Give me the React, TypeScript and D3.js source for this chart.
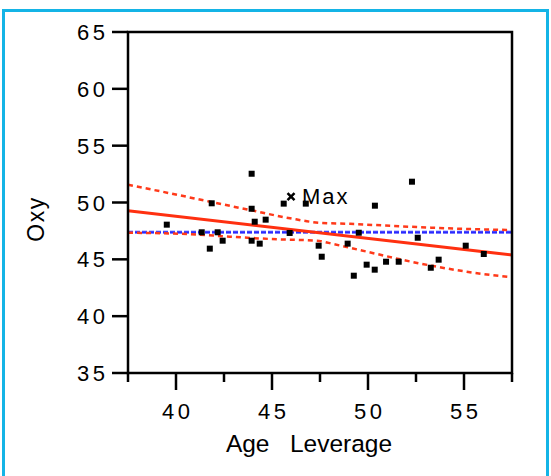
import React, { useEffect, useRef } from 'react';
import * as d3 from 'd3';

// points: [age leverage, oxy]
const points: [number, number][] = [
  [39.52, 48.05], [41.34, 47.38], [41.76, 45.94], [41.86, 49.93], [42.17, 47.38],
  [42.43, 46.64], [43.94, 52.53], [43.94, 49.45], [43.94, 46.64], [44.1, 48.31],
  [44.36, 46.38], [44.67, 48.49], [45.61, 49.9], [45.92, 47.32], [46.76, 49.9],
  [47.43, 46.2], [47.59, 45.23], [48.94, 46.38], [49.26, 43.56], [49.52, 47.34],
  [49.93, 44.53], [50.35, 44.09], [50.36, 49.72], [50.94, 44.79], [51.6, 44.79],
  [52.29, 51.83], [52.59, 46.9], [53.27, 44.26], [53.68, 44.97], [55.09, 46.2],
  [56.03, 45.47],
];
const maxPoint: [number, number] = [45.99, 50.51];
const maxLabel = 'Max';

const fitLine: [number, number][] = [[37.5, 49.28], [57.5, 45.38]];
const meanLine: [number, number][] = [[37.5, 47.38], [57.5, 47.38]];
const upperBand: [number, number][] = [
  [37.5, 51.56], [39.69, 50.81], [41.77, 50.07], [43.85, 49.34], [45.94, 48.61],
  [47.45, 48.22], [49.06, 48.12], [52.54, 47.84], [55.14, 47.67], [57.5, 47.58],
];
const lowerBand: [number, number][] = [
  [37.5, 47.34], [40.56, 47.23], [42.81, 46.99], [44.9, 46.79], [47.46, 46.61],
  [48.18, 46.35], [49.93, 45.68], [51.67, 45.0], [53.4, 44.41], [55.14, 43.91],
  [57.5, 43.42],
];

const yTicks = [35, 40, 45, 50, 55, 60, 65];
const xMajorTicks = [40, 45, 50, 55];
const xMinorTicks = [37.5, 42.5, 47.5, 52.5, 57.5];
const xTitle = 'Age\u00a0\u00a0\u00a0Leverage';
const yTitle = 'Oxy';

const W = 551;
const H = 476;
const FONT = '"Liberation Sans", Arial, Helvetica, sans-serif';

const App = () => {
  const svgRef = useRef<SVGSVGElement>(null);

  useEffect(() => {
    const svg = d3.select(svgRef.current);
    svg.selectAll('*').remove();

    const left = 128, right = 512, top = 32, bottom = 373;
    const x = d3.scaleLinear().domain([37.5, 57.5]).range([left, right]);
    const y = d3.scaleLinear().domain([35, 65]).range([bottom, top]);

    svg.append('rect').attr('width', W).attr('height', H).attr('fill', '#fff');

    // cyan outer frame
    svg.append('rect')
      .attr('x', 3.5).attr('y', 10.5)
      .attr('width', 544).attr('height', 480)
      .attr('fill', 'none')
      .attr('stroke', '#14b4e6')
      .attr('stroke-width', 3);

    const line = d3.line<[number, number]>().x(d => x(d[0])).y(d => y(d[1]));
    const curve = d3.line<[number, number]>()
      .x(d => x(d[0])).y(d => y(d[1]))
      .curve(d3.curveMonotoneX);

    const plot = svg.append('g');

    // mean line (blue dashed with soft halo)
    plot.append('path')
      .attr('d', line(meanLine))
      .attr('fill', 'none')
      .attr('stroke', '#9a9aff')
      .attr('stroke-width', 3.5)
      .attr('stroke-dasharray', '5 2');
    plot.append('path')
      .attr('d', line(meanLine))
      .attr('fill', 'none')
      .attr('stroke', '#2a2aff')
      .attr('stroke-width', 2)
      .attr('stroke-dasharray', '5 2');

    // confidence curves
    [upperBand, lowerBand].forEach(band => {
      plot.append('path')
        .attr('d', curve(band))
        .attr('fill', 'none')
        .attr('stroke', '#ff3a1a')
        .attr('stroke-width', 2.5)
        .attr('stroke-dasharray', '5 4');
    });

    // fitted line
    plot.append('path')
      .attr('d', line(fitLine))
      .attr('fill', 'none')
      .attr('stroke', '#ff3010')
      .attr('stroke-width', 3);

    // points
    plot.selectAll('.pt')
      .data(points)
      .enter().append('rect')
      .attr('class', 'pt')
      .attr('x', d => x(d[0]) - 3)
      .attr('y', d => y(d[1]) - 3)
      .attr('width', 6)
      .attr('height', 6)
      .attr('fill', '#000');

    const mx = x(maxPoint[0]), my = y(maxPoint[1]);
    plot.append('path')
      .attr('d', `M${mx - 3.5},${my - 3.5}L${mx + 3.5},${my + 3.5}M${mx - 3.5},${my + 3.5}L${mx + 3.5},${my - 3.5}`)
      .attr('stroke', '#000')
      .attr('stroke-width', 2.5);
    plot.append('text')
      .attr('x', mx + 11)
      .attr('y', my + 7.5)
      .attr('font-family', FONT)
      .attr('font-size', 22)
      .attr('letter-spacing', 2)
      .attr('fill', '#000')
      .text(maxLabel);

    // frame + axes
    const axes = svg.append('g').attr('stroke', '#000').attr('stroke-width', 2.5);
    axes.append('rect')
      .attr('x', left).attr('y', top)
      .attr('width', right - left).attr('height', bottom - top)
      .attr('fill', 'none');

    yTicks.forEach(t => {
      axes.append('line')
        .attr('x1', left - 16).attr('x2', left)
        .attr('y1', y(t)).attr('y2', y(t));
    });
    xMajorTicks.forEach(t => {
      axes.append('line')
        .attr('x1', x(t)).attr('x2', x(t))
        .attr('y1', bottom).attr('y2', bottom + 17);
    });
    xMinorTicks.forEach(t => {
      axes.append('line')
        .attr('x1', x(t)).attr('x2', x(t))
        .attr('y1', bottom).attr('y2', bottom + 9);
    });

    const labels = svg.append('g')
      .attr('font-family', FONT)
      .attr('font-size', 22)
      .attr('letter-spacing', 3.5)
      .attr('fill', '#000');

    yTicks.forEach(t => {
      labels.append('text')
        .attr('x', 108.5)
        .attr('y', y(t) + 8)
        .attr('text-anchor', 'end')
        .text(t);
    });
    xMajorTicks.forEach(t => {
      labels.append('text')
        .attr('x', x(t) + 1.75)
        .attr('y', 419)
        .attr('text-anchor', 'middle')
        .text(t);
    });

    svg.append('text')
      .attr('x', 309)
      .attr('y', 452)
      .attr('text-anchor', 'middle')
      .attr('font-family', FONT)
      .attr('font-size', 24.5)
      .attr('fill', '#000')
      .text(xTitle);

    svg.append('text')
      .attr('transform', `translate(44,${219}) rotate(-90)`)
      .attr('text-anchor', 'middle')
      .attr('font-family', FONT)
      .attr('font-size', 23)
      .attr('letter-spacing', 1.5)
      .attr('fill', '#000')
      .text(yTitle);
  }, []);

  return (
    <svg
      ref={svgRef}
      width={W}
      height={H}
      style={{ position: 'absolute', left: 0, top: 0, display: 'block' }}
    />
  );
};

export default App;
